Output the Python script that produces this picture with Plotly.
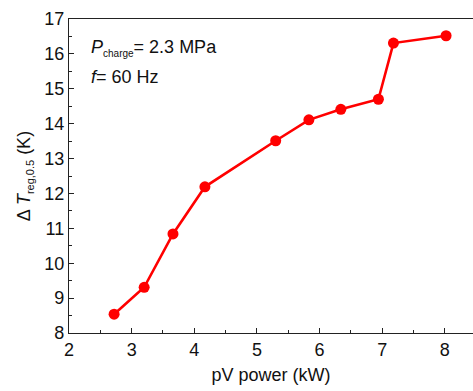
import plotly.graph_objects as go

power_kw = [2.72, 3.20, 3.66, 4.17, 5.30, 5.83, 6.34, 6.94, 7.18, 8.02]
delta_t = [8.54, 9.31, 10.84, 12.19, 13.51, 14.11, 14.41, 14.70, 16.31, 16.52]

x_ticks = [2, 3, 4, 5, 6, 7, 8]
y_ticks = [8, 9, 10, 11, 12, 13, 14, 15, 16, 17]

FONT = "Liberation Sans, Arial, sans-serif"
FS = 18

fig = go.Figure()
fig.add_trace(go.Scatter(
    x=power_kw, y=delta_t, mode="lines+markers",
    line=dict(color="#ff0000", width=2.6),
    marker=dict(color="#ff0000", size=11),
    showlegend=False,
))

axis_common = dict(
    showgrid=False, zeroline=False, showline=True, linecolor="#222222", linewidth=1.2,
    ticks="inside", ticklen=5, tickwidth=1, tickcolor="#222222",
    tickfont=dict(family=FONT, size=FS, color="#111111"),
)

fig.update_xaxes(
    **axis_common, range=[2, 8.45], tickvals=x_ticks, mirror=True,
    minor=dict(ticks="inside", ticklen=3, tickwidth=1, tickcolor="#222222", dtick=0.5, tick0=2),
    title=dict(text="pV power (kW)", font=dict(family=FONT, size=FS, color="#111111"), standoff=9),
)
fig.update_yaxes(
    **axis_common, range=[8, 17], tickvals=y_ticks, mirror=False,
    minor=dict(ticks="inside", ticklen=3, tickwidth=1, tickcolor="#222222", dtick=0.5, tick0=8),
    title=dict(text="Δ <i>T</i><sub><span style='font-size:11px'>reg,0.5</span></sub> (K)",
               font=dict(family=FONT, size=FS, color="#111111"), standoff=8),
)

fig.add_annotation(x=2.32, y=16.17, xref="x", yref="y", xanchor="left", yanchor="middle",
                   text="<i>P</i><sub><span style='font-size:10px'>charge</span></sub>= 2.3 MPa", showarrow=False,
                   font=dict(family=FONT, size=FS, color="#111111"))
fig.add_annotation(x=2.32, y=15.33, xref="x", yref="y", xanchor="left", yanchor="middle",
                   text="<i>f</i>= 60 Hz", showarrow=False,
                   font=dict(family=FONT, size=FS, color="#111111"))

fig.update_layout(
    width=473, height=391,
    margin=dict(l=69, r=0, t=19, b=58),
    plot_bgcolor="white", paper_bgcolor="white",
)

fig.write_html("out.html")
